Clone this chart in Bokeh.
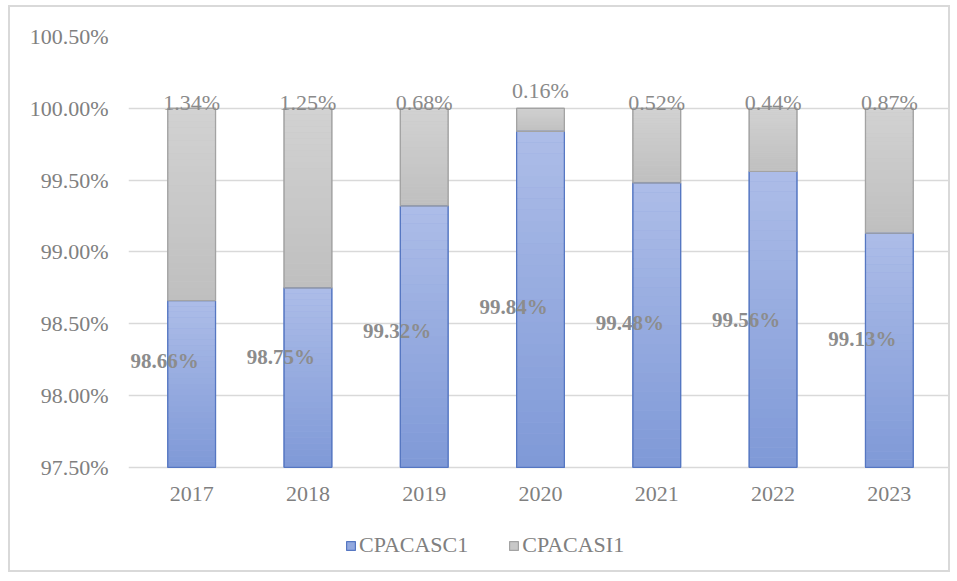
from bokeh.plotting import figure
from bokeh.models import (ColumnDataSource, FactorRange, Range1d, PrintfTickFormatter,
                          Legend, LegendItem, FixedTicker)
from bokeh.embed import file_html
from bokeh.resources import INLINE
from bokeh.core.properties import value

# ---- data ----
years = ["2017", "2018", "2019", "2020", "2021", "2022", "2023"]
cpacasc1 = [98.66, 98.75, 99.32, 99.84, 99.48, 99.56, 99.13]
cpacasi1 = [1.34, 1.25, 0.68, 0.16, 0.52, 0.44, 0.87]
y_ticks = [97.5, 98.0, 98.5, 99.0, 99.5, 100.0, 100.5]
series_names = ["CPACASC1", "CPACASI1"]
base = 97.5

FONT = "Liberation Serif"
TXT = "#808080"

# layout (page pixels)
FR_L, FR_R, FR_T, FR_B = 128, 948, 36, 573      # frame
PA_L, PA_R, PA_B = 133, 943, 466                 # plot area (Excel)
px_per_unit = (PA_R - PA_L) / len(years)
pad_pct = (2 * (PA_L - FR_L) / px_per_unit) / len(years)
y_min = y_ticks[-1] - (y_ticks[-1] - y_ticks[0]) * (FR_B - FR_T) / (PA_B - FR_T)

p = figure(x_range=FactorRange(*years, range_padding=pad_pct),
           y_range=Range1d(y_min, y_ticks[-1]),
           width=942, height=567, output_backend="svg", toolbar_location=None,
           min_border_left=FR_L - 10, min_border_right=0, min_border_top=FR_T - 7,
           min_border_bottom=0)
p.styles = {"margin": "5px 0 0 8px", "border": "2px solid #d9d9d9"}
p.outline_line_color = None
p.background_fill_color = "white"
p.border_fill_color = "white"

tops = [a + b for a, b in zip(cpacasc1, cpacasi1)]
W = 0.41

def lerp(c1, c2, t):
    return "#%02x%02x%02x" % tuple(int(round(c1[i] + (c2[i] - c1[i]) * t)) for i in range(3))

r_blue = p.vbar(x=years, bottom=base, top=cpacasc1, width=W, fill_color="#93a9df",
                line_color="#5677c2", line_width=1.2)
r_grey = p.vbar(x=years, bottom=cpacasc1, top=tops, width=W, fill_color="#c8c8c8",
                line_color="#a3a3a3", line_width=1.2)

N = 30
sx, sb, st, sc = [], [], [], []
light = (0xad, 0xbd, 0xe8)
dark = (0x7f, 0x99, 0xd7)
for x, v in zip(years, cpacasc1):
    h = (v - base) / N
    for k in range(N):
        sx.append(x); sb.append(base + k * h); st.append(base + (k + 1) * h)
        sc.append(lerp(dark, light, (k + 0.5) / N))
p.vbar(x=sx, bottom=sb, top=st, width=W - 0.004, fill_color=sc, line_color=None)
gx, gb, gt, gc = [], [], [], []
gl = (0xd2, 0xd2, 0xd2)
gd = (0xbf, 0xbf, 0xbf)
for x, v, t in zip(years, cpacasc1, tops):
    h = (t - v) / N
    for k in range(N):
        gx.append(x); gb.append(v + k * h); gt.append(v + (k + 1) * h)
        gc.append(lerp(gd, gl, (k + 0.5) / N))
p.vbar(x=gx, bottom=gb, top=gt, width=W - 0.004, fill_color=gc, line_color=None)
p.vbar(x=years, bottom=base, top=cpacasc1, width=W, fill_alpha=0,
       line_color="#5677c2", line_width=1.2)
p.vbar(x=years, bottom=cpacasc1, top=tops, width=W, fill_alpha=0,
       line_color="#a3a3a3", line_width=1.2)

# top labels (CPACASI1)
top_src = ColumnDataSource(dict(
    x=years, y=tops, t=["%.2f%%" % v for v in cpacasi1],
    yo=[-18 if v < 0.3 else -6 for v in cpacasi1]))
p.text(x="x", y="y", text="t", source=top_src, y_offset="yo", text_align="center",
       text_baseline="middle", text_font=value(FONT), text_font_size="22px",
       text_color="#8a8a8a")

# inner labels (CPACASC1)
in_src = ColumnDataSource(dict(
    x=years, y=[base + 0.32 * (v - base) + 0.37 for v in cpacasc1],
    t=["%.2f%%" % v for v in cpacasc1]))
p.text(x="x", y="y", text="t", source=in_src, x_offset=-27, text_align="center",
       text_baseline="middle", text_font=value(FONT), text_font_size="21px",
       text_font_style="bold", text_color="#8c8c8c")

# category labels
cat_src = ColumnDataSource(dict(x=years, y=[base] * len(years)))
p.text(x="x", y="y", text="x", source=cat_src, y_offset=27, text_align="center",
       text_baseline="middle", text_font=value(FONT), text_font_size="22px",
       text_color=TXT)

# axes
p.xaxis.visible = False
p.yaxis.ticker = FixedTicker(ticks=y_ticks)
p.yaxis.formatter = PrintfTickFormatter(format="%.2f%%")
p.yaxis.axis_line_color = None
p.yaxis.major_tick_line_color = None
p.yaxis.minor_tick_line_color = None
p.yaxis.major_label_text_font = FONT
p.yaxis.major_label_text_font_size = "22px"
p.yaxis.major_label_text_color = TXT
p.yaxis.major_label_standoff = 14
p.xgrid.grid_line_color = None
p.ygrid.ticker = FixedTicker(ticks=y_ticks)
p.ygrid.grid_line_color = "#d9d9d9"
p.ygrid.grid_line_width = 1.5

legend = Legend(items=[LegendItem(label=series_names[0], renderers=[r_blue]),
                       LegendItem(label=series_names[1], renderers=[r_grey])],
                orientation="horizontal", location=(345 - FR_L, FR_B - 557),
                label_text_font=FONT, label_text_font_size="22px", label_text_color=TXT,
                glyph_width=11, glyph_height=11, label_standoff=3, spacing=40,
                label_height=20, border_line_color=None, background_fill_alpha=0,
                margin=0, padding=0)
p.add_layout(legend)

open("out.html", "w").write(file_html(p, INLINE))
